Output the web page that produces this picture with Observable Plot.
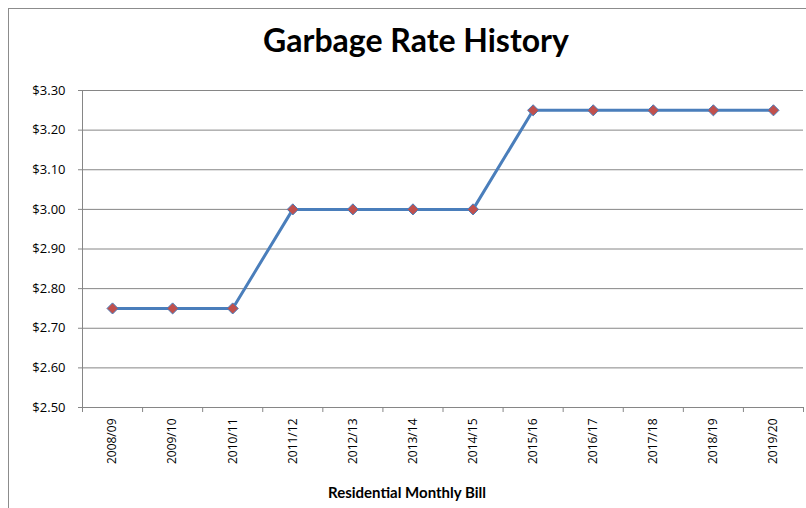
<!DOCTYPE html>
<html>
<head>
<meta charset="utf-8">
<script src="https://cdn.jsdelivr.net/npm/d3@7"></script>
<script src="https://cdn.jsdelivr.net/npm/@observablehq/plot@0.6"></script>
<style>
  html, body { margin: 0; padding: 0; background: #fff; }
  #wrap { position: relative; width: 806px; height: 508px; overflow: hidden; }
  #border { position: absolute; left: 8px; top: 8px; width: 820px; height: 520px; border: 1px solid #8c8c8c; box-sizing: border-box; }
  #chart { position: absolute; left: 0; top: 0; }
</style>
</head>
<body>
<div id="wrap"><div id="border"></div><div id="chart"></div></div>
<script>
const years = ["2008/09","2009/10","2010/11","2011/12","2012/13","2013/14","2014/15","2015/16","2016/17","2017/18","2018/19","2019/20"];
const rates = [2.75, 2.75, 2.75, 3.00, 3.00, 3.00, 3.00, 3.25, 3.25, 3.25, 3.25, 3.25];
const yTicks = [2.5, 2.6, 2.7, 2.8, 2.9, 3.0, 3.1, 3.2, 3.3];
const title = "Garbage Rate History";
const xTitle = "Residential Monthly Bill";

const data = years.map((y, i) => ({year: y, i, pos: i + 0.5, rate: rates[i]}));
const boundaries = d3.range(years.length + 1);
const centers = years.map((_, i) => i + 0.5);
const font = "Lato, 'Open Sans', sans-serif";
const labelFont = "'Open Sans', Lato, sans-serif";

const chart = Plot.plot({
  width: 806,
  height: 508,
  marginLeft: 82,
  marginRight: 3,
  marginTop: 90,
  marginBottom: 101,
  style: {fontFamily: font, fontSize: "12px", color: "#000", background: "transparent"},
  x: {domain: [0, years.length], axis: null},
  y: {domain: [2.5, 3.3], axis: null},
  marks: [
    Plot.gridY(yTicks, {stroke: "#868686", strokeOpacity: 1, strokeWidth: 1}),
    Plot.ruleX([0], {stroke: "#868686", strokeWidth: 1}),
    Plot.ruleY([2.5], {stroke: "#868686", strokeWidth: 1}),
    Plot.axisY({ticks: yTicks, tickFormat: d => "$" + d.toFixed(2), tickSize: 4, tickPadding: 13, stroke: "#868686", fill: "#000", label: null, fontSize: 13, fontFamily: labelFont}),
    Plot.axisX({ticks: boundaries, tickFormat: () => "", tickSize: 5, stroke: "#868686", label: null}),
    Plot.axisX({ticks: centers, tickFormat: d => years[Math.round(d - 0.5)], tickSize: 0, tickPadding: 11, tickRotate: -90, fill: "#000", label: null, fontSize: 12, fontFamily: labelFont}),
    Plot.line(data, {x: "pos", y: "rate", stroke: "#4a7ebb", strokeWidth: 3}),
    Plot.dot(data, {x: "pos", y: "rate", symbol: "diamond2", r: 5, fill: "#c0504d", stroke: "#4a7ebb", strokeWidth: 1}),
    Plot.text([title], {frameAnchor: "top", lineAnchor: "bottom", dy: -39, dx: -27, fontSize: 32, fontWeight: "bold", fill: "#000"}),
    Plot.text([xTitle], {frameAnchor: "bottom", lineAnchor: "bottom", dy: 90, dx: -36, fontSize: 15, fontWeight: "bold", fill: "#000"})
  ]
});
document.getElementById("chart").appendChild(chart);
</script>
</body>
</html>
